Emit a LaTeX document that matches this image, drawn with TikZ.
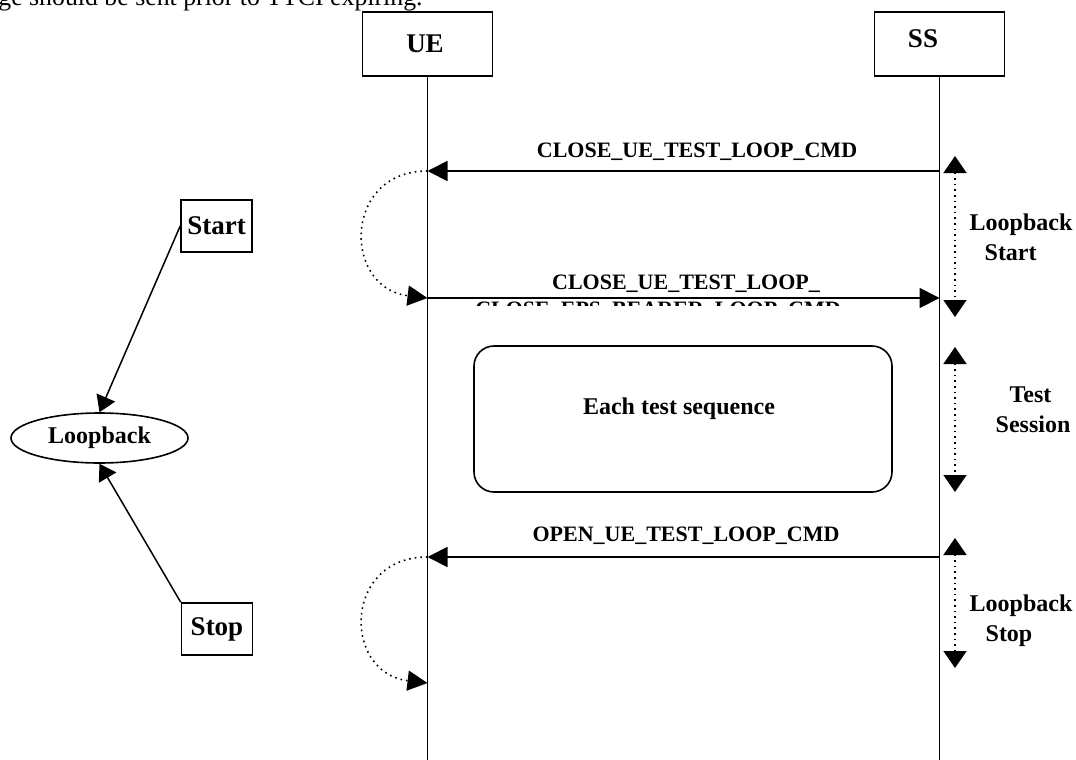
\documentclass[tikz,border=0pt]{standalone}
\usepackage{fontspec}
\setmainfont{Liberation Serif}
\usetikzlibrary{arrows.meta}
\usetikzlibrary{shapes.geometric}
\usetikzlibrary{positioning}

\tikzset{
  notefont/.style={font=\fontsize{12.9}{15}\selectfont},
  boxfont/.style={font=\fontsize{13.5}{16}\selectfont\bfseries},
  msgfont/.style={font=\fontsize{11}{13}\selectfont\bfseries},
  bigfont/.style={font=\fontsize{12}{15}\selectfont\bfseries},
  lifebox/.style={draw, line width=0.8pt, minimum width=65pt, minimum height=32pt, inner sep=0pt},
  smallbox/.style={draw, line width=0.8pt, minimum width=35.5pt, minimum height=26pt, inner sep=0pt},
  loopnode/.style={draw, ellipse, line width=0.8pt, minimum width=88.5pt, minimum height=25pt, inner sep=0pt},
  seqbox/.style={draw, line width=0.8pt, rounded corners=10pt, minimum width=209pt, minimum height=73pt},
  life/.style={line width=0.9pt},
  msg/.style={line width=0.9pt, -{Triangle[length=10pt,width=10pt]}},
  swing/.style={dotted, line width=0.8pt, -{Triangle[length=10pt,width=10pt]}},
  span/.style={dotted, line width=0.8pt, {Triangle[length=8.5pt,width=11.5pt]}-{Triangle[length=8.5pt,width=11.5pt]}},
  lnk/.style={line width=0.75pt, -{Triangle[length=8pt,width=10pt]}}
}

\begin{document}
\begin{tikzpicture}[x=0.5pt,y=-0.5pt]
\useasboundingbox (0,0) rectangle (1076,760);
% line of text cut by the page top
\node[notefont, anchor=base west, inner sep=0pt] (note) at (-2,5) {ge should be sent prior to TTCI expiring.};

% entities and lifelines
\node[lifebox] (ue) at (427.5,44) {};
\node[lifebox] (ss) at (939.5,44) {};
\node[boxfont] (uelbl) at (425,44) {UE};
\node[boxfont] (sslbl) at (923,39) {SS};
\coordinate (ueend) at (427.5,760);
\coordinate (ssend) at (939.5,760);
\draw[life] (ue.south) -- (ueend);
\draw[life] (ss.south) -- (ssend);

\coordinate (ue1) at (427.5,171);
\coordinate (ss1) at (939.5,171);
\coordinate (ue2) at (427.5,298);
\coordinate (ss2) at (939.5,298);
\coordinate (ue3) at (427.5,557);
\coordinate (ss3) at (939.5,557);
\coordinate (ue4) at (427.5,683);

% messages
\draw[msg] (ss1) -- (ue1);
\node[msgfont] (m1) at (697,152) {CLOSE\_UE\_TEST\_LOOP\_CMD};
\draw[msg] (ue2) -- (ss2);
\node[msgfont] (m2) at (686,284) {CLOSE\_UE\_TEST\_LOOP\_};
\begin{scope}
  \clip (440,299.5) rectangle (900,305);
  \node[msgfont, anchor=base] (m2b) at (658,316) {CLOSE\_EPS\_BEARER\_LOOP\_CMD};
\end{scope}
\draw[msg] (ss3) -- (ue3);
\node[msgfont] (m3) at (686,536) {OPEN\_UE\_TEST\_LOOP\_CMD};

% UE turn-arounds
\draw[swing] (ue1) .. controls +(-85,0) and +(-85,-10) .. (ue2);
\draw[swing] (ue3) .. controls +(-85,0) and +(-85,-10) .. (ue4);

% test sequence
\node[seqbox] (seq) at (683,419) {};
\node[bigfont] (seqlbl) at (679,409) {Each test sequence};

% phases on the right
\coordinate (sp1a) at (955,156);
\coordinate (sp1b) at (955,317);
\coordinate (sp2a) at (955,347);
\coordinate (sp2b) at (955,492);
\coordinate (sp3a) at (955,538);
\coordinate (sp3b) at (955,668);
\draw[span] (sp1a) -- (sp1b);
\draw[span] (sp2a) -- (sp2b);
\draw[span] (sp3a) -- (sp3b);
\node[bigfont, align=left] (ph1) at (1021,237) {Loopback\\\hspace*{7.5pt}Start};
\node[bigfont, align=left] (ph2) at (1033,410) {\hspace*{7pt}Test\\Session};
\node[bigfont, align=left] (ph3) at (1021,621) {Loopback\\\hspace*{8pt}Stop};

% states on the left
\node[smallbox, boxfont] (start) at (216.5,226) {Start};
\node[loopnode, bigfont] (loop) at (99.5,438) {Loopback};
\node[smallbox, boxfont] (stop) at (217,629) {Stop};
\draw[lnk] (start.west) -- (loop.north);
\draw[lnk] (stop.north west) -- (loop.south);
\end{tikzpicture}
\end{document}
